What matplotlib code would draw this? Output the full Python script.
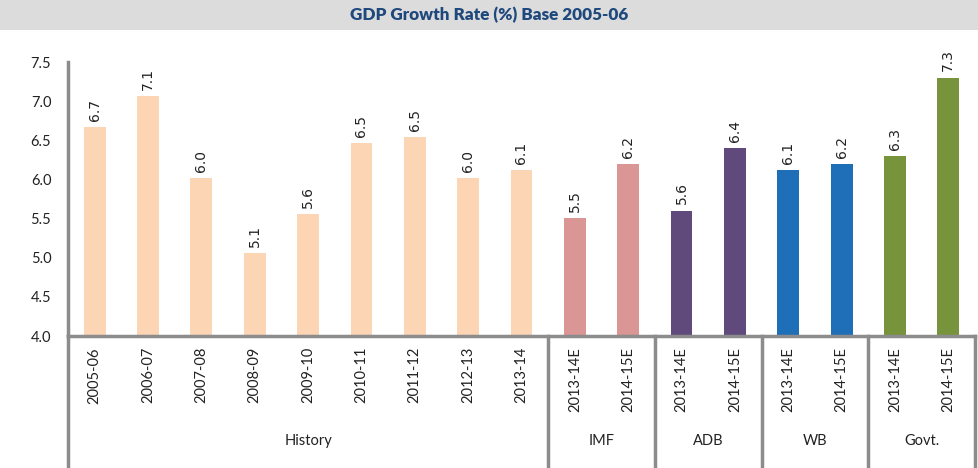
import matplotlib.pyplot as plt
from matplotlib.patches import Rectangle

# ---------------------------------------------------------------------------
# Data
# ---------------------------------------------------------------------------
years = ['2005-06', '2006-07', '2007-08', '2008-09', '2009-10', '2010-11',
         '2011-12', '2012-13', '2013-14',
         '2013-14E', '2014-15E', '2013-14E', '2014-15E',
         '2013-14E', '2014-15E', '2013-14E', '2014-15E']
growth = [6.67, 7.06, 6.02, 5.06, 5.56, 6.46, 6.54, 6.02, 6.12,
          5.51, 6.2, 5.6, 6.4, 6.12, 6.2, 6.3, 7.3]
groups = ['History', 'IMF', 'ADB', 'WB', 'Govt.']
group_sizes = [9, 2, 2, 2, 2]
group_colors = ['#fcd5b5', '#d99694', '#604a7b', '#1f6fb8', '#77933c']

AXIS_GREY = '#8c8c8c'
plt.rcParams['font.family'] = ['Lato', 'DejaVu Sans']

fig = plt.figure(figsize=(9.79, 4.68), dpi=100)

# title band
fig.patches.append(Rectangle((0, 1 - 30 / 468), 1, 30 / 468, transform=fig.transFigure,
                             facecolor='#dcdcdc', edgecolor='none', zorder=0))
fig.text(0.5, 1 - 15 / 468, 'GDP Growth Rate (%) Base 2005-06', ha='center', va='center',
         fontsize=12.3, fontweight='heavy', color='#1f497d')

ax = fig.add_axes([68 / 979, (468 - 336) / 468, (975 - 68) / 979, 274 / 468])

colors = []
for c, n in zip(group_colors, group_sizes):
    colors += [c] * n

x = list(range(len(growth)))
ax.bar(x, growth, width=0.41, color=colors, zorder=2)
ax.set_ylim(4.0, 7.5)
ax.set_xlim(-0.5, len(growth) - 0.5)

for xi, v in zip(x, growth):
    ax.text(xi, v + 0.08, f'{v:.1f}', rotation=90, ha='center', va='bottom',
            fontsize=10, color='#222222', family='DejaVu Sans')

ax.set_yticks([4.0, 4.5, 5.0, 5.5, 6.0, 6.5, 7.0, 7.5])
ax.set_yticklabels([f'{t:.1f}' for t in ax.get_yticks()], fontsize=10.5, color='#222222')
ax.tick_params(axis='y', length=0, pad=12)
ax.set_xticks(x)
ax.set_xticklabels(years, rotation=90, fontsize=10.5, color='#222222', va='top')
ax.tick_params(axis='x', length=0, pad=8)

for s in ['top', 'right']:
    ax.spines[s].set_visible(False)
for s in ['left', 'bottom']:
    ax.spines[s].set_color(AXIS_GREY)
    ax.spines[s].set_linewidth(2.5)

# group separators below the axis
trans = ax.get_xaxis_transform()
ax.plot([-0.5, -0.5], [0, -0.49], color=AXIS_GREY, lw=2.5, transform=trans, clip_on=False)
start = -0.5
for g, n in zip(groups, group_sizes):
    end = start + n
    ax.plot([end, end], [0, -0.48], color=AXIS_GREY, lw=2.5, transform=trans, clip_on=False)
    ax.text((start + end) / 2, -0.385, g, ha='center', va='center', fontsize=10.5,
            color='#222222', transform=trans)
    start = end

plt.savefig('out.png', dpi=100)
